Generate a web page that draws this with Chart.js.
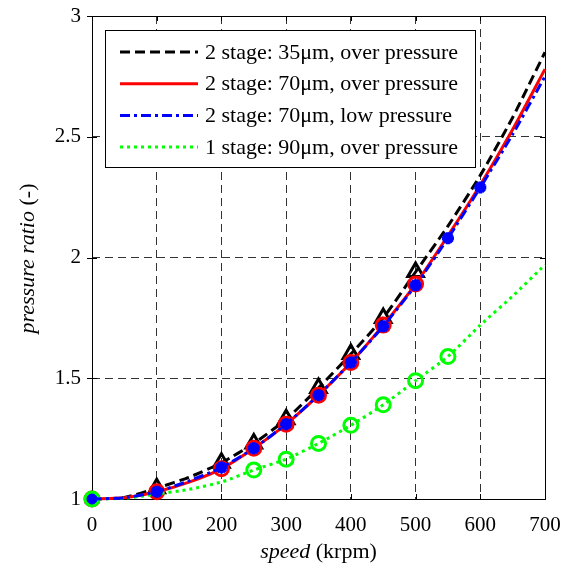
<!DOCTYPE html>
<html>
<head>
<meta charset="utf-8">
<script src="https://cdn.jsdelivr.net/npm/chart.js@4.4.0/dist/chart.umd.min.js"></script>
<style>
    html, body { margin: 0; padding: 0; background: #fff; }
    #wrap { width: 571px; height: 570px; }
</style>
</head>
<body>
<div id="wrap"><canvas id="chart" width="571" height="570"></canvas></div>
<script>
// speed (krpm) samples along the curves
const speeds = [0, 50, 100, 150, 200, 250, 300, 350, 400, 450, 500, 550, 600, 650, 700];

// pressure ratio for each test case
const twoStage35Over = [1.0, 1.006, 1.045, 1.09, 1.15, 1.23, 1.33, 1.46, 1.60, 1.75, 1.94, 2.13, 2.34, 2.58, 2.85];
const twoStage70Over = [1.0, 1.005, 1.03, 1.07, 1.125, 1.21, 1.31, 1.43, 1.565, 1.72, 1.89, 2.09, 2.30, 2.53, 2.78];
const twoStage70Low  = [1.0, 1.005, 1.03, 1.075, 1.13, 1.21, 1.31, 1.43, 1.565, 1.715, 1.885, 2.08, 2.29, 2.51, 2.75];
const oneStage90Over = [1.0, 1.003, 1.02, 1.04, 1.07, 1.12, 1.165, 1.23, 1.305, 1.39, 1.49, 1.59, 1.72, 1.84, 1.97];

// speeds where the measured points are marked
const marks35Over = [0, 100, 200, 250, 300, 350, 400, 450, 500];
const marks70Over = [0, 100, 200, 250, 300, 350, 400, 450, 500];
const marks70Low  = [0, 100, 200, 250, 300, 350, 400, 450, 500, 550, 600];
const marks90Over = [0, 250, 300, 350, 400, 450, 500, 550];

const seriesNames = [
    '2 stage: 35\u03bcm, over pressure',
    '2 stage: 70\u03bcm, over pressure',
    '2 stage: 70\u03bcm, low pressure',
    '1 stage: 90\u03bcm, over pressure'
];

const xTicks = [0, 100, 200, 300, 400, 500, 600, 700];
const yTicks = [1, 1.5, 2, 2.5, 3];

const FONT = '"Liberation Serif", "Times New Roman", serif';

function toPoints(vals) {
    return speeds.map((s, i) => ({ x: s, y: vals[i] }));
}

function markRadius(marks, r, r0) {
    return ctx => {
        const s = speeds[ctx.dataIndex];
        if (!marks.includes(s)) return 0;
        return (s === 0 && r0) ? r0 : r;
    };
}

const datasets = [
    {
        label: seriesNames[0],
        data: toPoints(twoStage35Over),
        borderColor: '#000000',
        borderWidth: 3,
        borderDash: [10, 5],
        pointStyle: 'triangle',
        pointRadius: markRadius(marks35Over, 9, 6),
        pointBorderWidth: 3,
        pointBorderColor: '#000000',
        pointBackgroundColor: 'rgba(0,0,0,0)',
        clip: false,
        order: 4
    },
    {
        label: seriesNames[1],
        data: toPoints(twoStage70Over),
        borderColor: '#ff0000',
        borderWidth: 3,
        pointStyle: 'circle',
        pointRadius: markRadius(marks70Over, 7),
        pointBorderWidth: 3,
        pointBorderColor: '#ff0000',
        pointBackgroundColor: 'rgba(0,0,0,0)',
        clip: false,
        order: 3
    },
    {
        label: seriesNames[2],
        data: toPoints(twoStage70Low),
        borderColor: '#0000ff',
        borderWidth: 3,
        borderDash: [10, 4, 3, 4],
        pointStyle: ctx => ctx.dataIndex === 0 ? 'circle' : 'star',
        pointRadius: markRadius(marks70Low, 6, 5),
        pointBorderWidth: ctx => ctx.dataIndex === 0 ? 1 : 4,
        pointBorderColor: '#0000ff',
        pointBackgroundColor: '#0000ff',
        clip: false,
        order: 1
    },
    {
        label: seriesNames[3],
        data: toPoints(oneStage90Over),
        borderColor: '#00ff00',
        borderWidth: 3,
        borderDash: [3, 4],
        pointStyle: 'circle',
        pointRadius: markRadius(marks90Over, 7),
        pointBorderWidth: 3,
        pointBorderColor: '#00ff00',
        pointBackgroundColor: ctx => ctx.dataIndex === 0 ? '#00ff00' : 'rgba(0,0,0,0)',
        clip: false,
        order: 2
    }
];

// frame + little inward ticks, like the original plot
const framePlugin = {
    id: 'frame',
    beforeDatasetsDraw(chart) {
        const { ctx, chartArea: a, scales } = chart;
        ctx.save();
        ctx.strokeStyle = '#000';
        ctx.lineWidth = 1;
        ctx.setLineDash([]);
        ctx.strokeRect(Math.round(a.left) + 0.5, Math.round(a.top) + 0.5,
            Math.round(a.right - a.left), Math.round(a.bottom - a.top));
        ctx.beginPath();
        xTicks.forEach(v => {
            const px = Math.round(scales.x.getPixelForValue(v)) + 0.5;
            ctx.moveTo(px, a.bottom); ctx.lineTo(px, a.bottom - 5);
            ctx.moveTo(px, a.top); ctx.lineTo(px, a.top + 5);
        });
        yTicks.forEach(v => {
            const py = Math.round(scales.y.getPixelForValue(v)) + 0.5;
            ctx.moveTo(a.left - 5, py); ctx.lineTo(a.left + 5, py);
            ctx.moveTo(a.right, py); ctx.lineTo(a.right - 5, py);
        });
        ctx.stroke();
        ctx.restore();
    }
};

const legendPlugin = {
    id: 'boxLegend',
    afterDatasetsDraw(chart) {
        const { ctx, chartArea: a } = chart;
        const bx = a.left + 13, by = a.top + 14, bw = 370, bh = 137;
        ctx.save();
        ctx.fillStyle = '#fff';
        ctx.fillRect(bx, by, bw, bh);
        ctx.strokeStyle = '#000';
        ctx.lineWidth = 1;
        ctx.strokeRect(bx + 0.5, by + 0.5, bw, bh);
        ctx.font = '22px ' + FONT;
        ctx.textBaseline = 'middle';
        ctx.fillStyle = '#000';
        datasets.forEach((ds, i) => {
            const ry = by + 22 + i * 31.7;
            ctx.beginPath();
            ctx.strokeStyle = ds.borderColor;
            ctx.lineWidth = 3;
            ctx.setLineDash(ds.borderDash || []);
            ctx.moveTo(bx + 15, ry);
            ctx.lineTo(bx + 93, ry);
            ctx.stroke();
            ctx.setLineDash([]);
            ctx.fillText(ds.label, bx + 100, ry + 1);
        });
        ctx.restore();
    }
};

// axis titles with the italic quantity and upright unit
const titlePlugin = {
    id: 'axisTitles',
    afterDraw(chart) {
        const { ctx, chartArea: a } = chart;
        const ital = 'italic 22px ' + FONT;
        const norm = '22px ' + FONT;
        ctx.save();
        ctx.fillStyle = '#000';
        ctx.textBaseline = 'middle';
        ctx.textAlign = 'left';

        // x
        ctx.font = ital;
        const w1 = ctx.measureText('speed').width;
        ctx.font = norm;
        const w2 = ctx.measureText(' (krpm)').width;
        let x = (a.left + a.right) / 2 - (w1 + w2) / 2;
        const y = a.bottom + 53;
        ctx.font = ital; ctx.fillText('speed', x, y);
        ctx.font = norm; ctx.fillText(' (krpm)', x + w1, y);

        // y
        ctx.translate(28, (a.top + a.bottom) / 2 + 1);
        ctx.rotate(-Math.PI / 2);
        ctx.font = ital;
        const v1 = ctx.measureText('pressure ratio').width;
        ctx.font = norm;
        const v2 = ctx.measureText(' (-)').width;
        x = -(v1 + v2) / 2;
        ctx.font = ital; ctx.fillText('pressure ratio', x, 0);
        ctx.font = norm; ctx.fillText(' (-)', x + v1, 0);
        ctx.restore();
    }
};

new Chart(document.getElementById('chart'), {
    type: 'line',
    data: { datasets: datasets },
    options: {
        responsive: false,
        animation: false,
        layout: { padding: { top: 16, right: 26, bottom: 0, left: 0 } },
        plugins: {
            legend: { display: false },
            tooltip: { enabled: false }
        },
        elements: { line: { tension: 0.2 } },
        scales: {
            x: {
                type: 'linear',
                min: 0,
                max: 700,
                afterBuildTicks: s => { s.ticks = xTicks.map(v => ({ value: v })); },
                afterFit: s => { s.height = 71; s.paddingLeft = 0; s.paddingRight = 0; },
                grid: { color: '#333', lineWidth: 1, drawTicks: false },
                border: { display: false, dash: [8, 5] },
                ticks: { color: '#000', font: { family: FONT, size: 21 }, padding: 14, maxRotation: 0 }
            },
            y: {
                min: 1,
                max: 3,
                afterBuildTicks: s => { s.ticks = yTicks.map(v => ({ value: v })); },
                afterFit: s => { s.width = 92; s.paddingTop = 0; s.paddingBottom = 0; },
                grid: { color: '#333', lineWidth: 1, drawTicks: false },
                border: { display: false, dash: [8, 5] },
                ticks: { color: '#000', font: { family: FONT, size: 21 }, padding: 11, callback: v => String(v) }
            }
        }
    },
    plugins: [framePlugin, legendPlugin, titlePlugin]
});
</script>
</body>
</html>
